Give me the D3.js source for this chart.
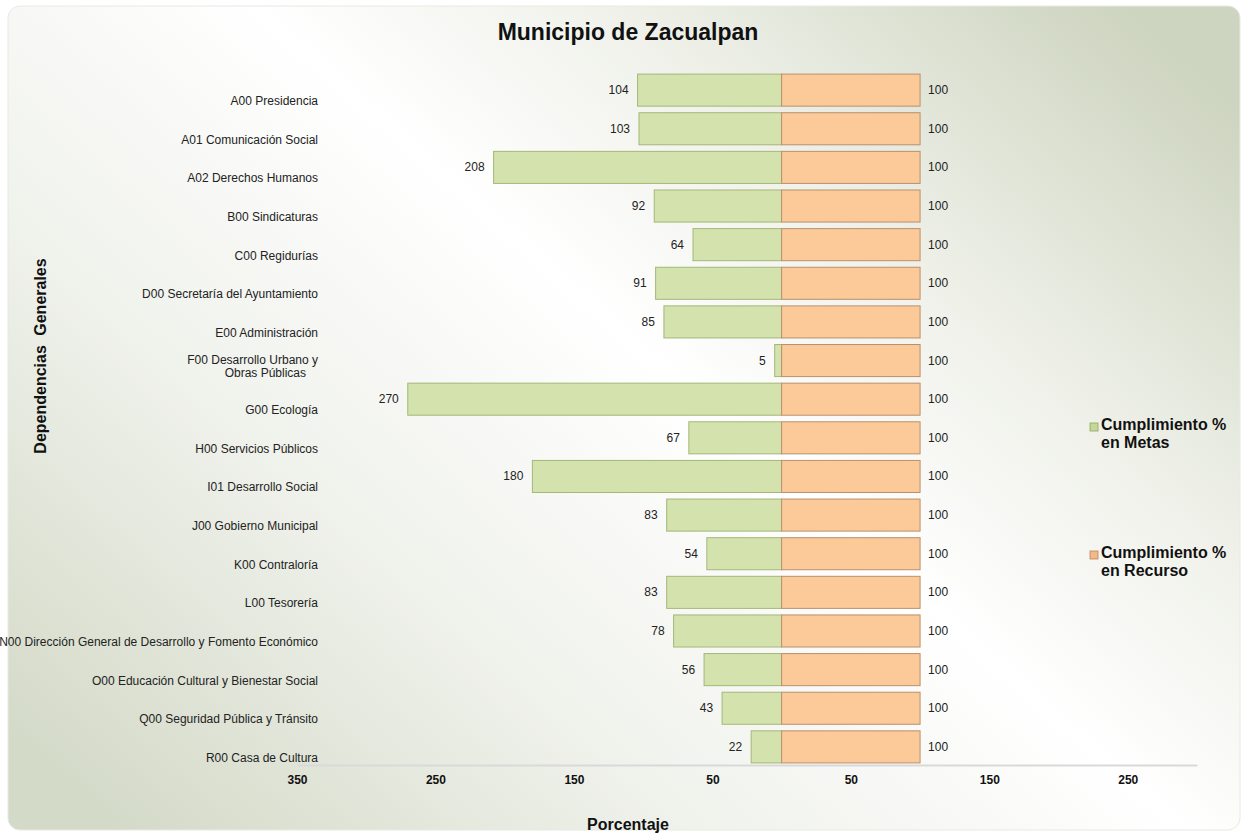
<!DOCTYPE html>
<html>
<head>
<meta charset="utf-8">
<script src="https://cdn.jsdelivr.net/npm/d3@7"></script>
<style>
  body { margin: 0; background: #fff; }
  text { font-family: "Liberation Sans Narrow", "Liberation Sans", Arial, sans-serif; }
</style>
</head>
<body>
<div id="chart"></div>
<script>
// Data
var categories = [
  "A00 Presidencia",
  "A01 Comunicación Social",
  "A02 Derechos Humanos",
  "B00 Sindicaturas",
  "C00 Regidurías",
  "D00 Secretaría del Ayuntamiento",
  "E00 Administración",
  "F00 Desarrollo Urbano y|Obras Públicas",
  "G00 Ecología",
  "H00 Servicios Públicos",
  "I01 Desarrollo Social",
  "J00 Gobierno Municipal",
  "K00 Contraloría",
  "L00 Tesorería",
  "N00 Dirección General de Desarrollo y Fomento Económico",
  "O00 Educación Cultural y Bienestar Social",
  "Q00 Seguridad Pública y Tránsito",
  "R00 Casa de Cultura"
];
var metas =   [104, 103, 208, 92, 64, 91, 85, 5, 270, 67, 180, 83, 54, 83, 78, 56, 43, 22];
var recurso = [100, 100, 100, 100, 100, 100, 100, 100, 100, 100, 100, 100, 100, 100, 100, 100, 100, 100];
var tickValues = [-350, -250, -150, -50, 50, 150, 250];
var seriesNames = ["Cumplimiento %|en Metas", "Cumplimiento %|en Recurso"];

var svgWidth = 1248;
var svgHeight = 834;

var svg = d3.select("#chart")
  .append("svg")
  .attr("width", svgWidth)
  .attr("height", svgHeight);

// Background panel
var defs = svg.append("defs");
var grad = defs.append("linearGradient")
  .attr("id", "bg")
  .attr("gradientUnits", "userSpaceOnUse")
  .attr("x1", 200).attr("y1", 900)
  .attr("x2", 1050).attr("y2", -60);
grad.append("stop").attr("offset", "0%").attr("stop-color", "#d4dac8");
grad.append("stop").attr("offset", "30%").attr("stop-color", "#f0f2ec");
grad.append("stop").attr("offset", "55%").attr("stop-color", "#ffffff");
grad.append("stop").attr("offset", "75%").attr("stop-color", "#eef0e8");
grad.append("stop").attr("offset", "100%").attr("stop-color", "#cdd4bf");

svg.append("rect")
  .attr("x", 8).attr("y", 6)
  .attr("width", 1232).attr("height", 824)
  .attr("rx", 12).attr("ry", 12)
  .attr("fill", "url(#bg)")
  .attr("stroke", "#e8eae2")
  .attr("stroke-width", 1);

// Scales
var xScale = d3.scaleLinear()
  .domain([-350, 300])
  .range([297, 1197]);

var yScale = d3.scaleBand()
  .domain(d3.range(categories.length))
  .range([71, 766])
  .paddingInner(0.17)
  .paddingOuter(0.08);

var chartGroup = svg.append("g");

// Axis
var bottomAxis = d3.axisBottom(xScale)
  .tickValues(tickValues)
  .tickSize(0)
  .tickPadding(10)
  .tickFormat(d => Math.abs(d));

var axisG = chartGroup.append("g")
  .attr("transform", "translate(0, 765)")
  .call(bottomAxis);
axisG.select(".domain").attr("stroke", "#d9d9d9").attr("stroke-width", 2);
axisG.selectAll("text")
  .attr("font-size", "12px")
  .attr("font-weight", "bold")
  .attr("fill", "#111")
  .style("font-family", "'Liberation Sans Narrow', 'Liberation Sans', Arial, sans-serif");

// Bars - metas (left)
chartGroup.selectAll(".metas")
  .data(metas)
  .enter()
  .append("rect")
  .attr("class", "metas")
  .attr("x", d => xScale(-d))
  .attr("y", (d, i) => yScale(i))
  .attr("width", d => xScale(0) - xScale(-d))
  .attr("height", yScale.bandwidth())
  .attr("fill", "#d4e3ad")
  .attr("stroke", "#a3b778")
  .attr("stroke-width", 1);

// Bars - recurso (right)
chartGroup.selectAll(".recurso")
  .data(recurso)
  .enter()
  .append("rect")
  .attr("class", "recurso")
  .attr("x", xScale(0))
  .attr("y", (d, i) => yScale(i))
  .attr("width", d => xScale(d) - xScale(0))
  .attr("height", yScale.bandwidth())
  .attr("fill", "#fcc999")
  .attr("stroke", "#b8916c")
  .attr("stroke-width", 1);

// Value labels
chartGroup.selectAll(".metasLabel")
  .data(metas)
  .enter()
  .append("text")
  .attr("x", d => xScale(-d) - 9)
  .attr("y", (d, i) => yScale(i) + yScale.bandwidth() / 2 + 4)
  .attr("text-anchor", "end")
  .attr("font-size", "12px")
  .attr("fill", "#222")
  .text(d => d);

chartGroup.selectAll(".recursoLabel")
  .data(recurso)
  .enter()
  .append("text")
  .attr("x", d => xScale(d) + 8)
  .attr("y", (d, i) => yScale(i) + yScale.bandwidth() / 2 + 4)
  .attr("text-anchor", "start")
  .attr("font-size", "12px")
  .attr("fill", "#222")
  .text(d => d);

// Category labels
var catText = chartGroup.selectAll(".catLabel")
  .data(categories)
  .enter()
  .append("text")
  .attr("text-anchor", "end")
  .attr("font-size", "12px")
  .attr("fill", "#222")
  .attr("x", 318)
  .attr("y", (d, i) => yScale(i) + yScale.bandwidth() / 2 + 15 - (d.indexOf("|") >= 0 ? 12 : 0));

catText.each(function(d) {
  var parts = d.split("|");
  var t = d3.select(this);
  parts.forEach(function(p, j) {
    t.append("tspan")
      .attr("x", j === 0 ? 318 : 306)
      .attr("dy", j === 0 ? 0 : 13)
      .text(p);
  });
});

// Title
svg.append("text")
  .attr("x", 628)
  .attr("y", 40)
  .attr("text-anchor", "middle")
  .attr("font-size", "23px")
  .attr("font-weight", "bold")
  .attr("fill", "#111")
  .text("Municipio de Zacualpan");

// Axis titles
svg.append("text")
  .attr("transform", "translate(46, 356) rotate(-90)")
  .attr("text-anchor", "middle")
  .attr("font-size", "16px")
  .attr("font-weight", "bold")
  .attr("fill", "#111")
  .style("font-family", "'Liberation Sans', Arial, sans-serif")
  .style("word-spacing", "5px")
  .text("Dependencias Generales");

svg.append("text")
  .attr("x", 628)
  .attr("y", 830)
  .attr("text-anchor", "middle")
  .attr("font-size", "16px")
  .attr("font-weight", "bold")
  .attr("fill", "#111")
  .text("Porcentaje");

// Legend
var legendColors = ["#c5d89a", "#f5b887"];
var legendStroke = ["#8fa560", "#b8855c"];
var legendY = [430, 558];
seriesNames.forEach(function(name, i) {
  var g = svg.append("g").attr("transform", `translate(1090, ${legendY[i]})`);
  g.append("rect")
    .attr("x", 0).attr("y", -7)
    .attr("width", 8).attr("height", 8)
    .attr("fill", legendColors[i])
    .attr("stroke", legendStroke[i])
    .attr("stroke-width", 0.8);
  var t = g.append("text")
    .attr("font-size", "16px")
    .attr("font-weight", "bold")
    .attr("fill", "#111")
    .style("font-family", "'Liberation Sans', Arial, sans-serif")
    .attr("y", 0);
  name.split("|").forEach(function(p, j) {
    t.append("tspan")
      .attr("x", 11)
      .attr("dy", j === 0 ? 0 : 18)
      .text(p);
  });
});
</script>
</body>
</html>
